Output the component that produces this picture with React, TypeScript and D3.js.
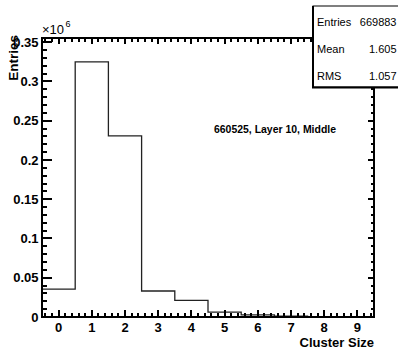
import React from "react";
import * as d3 from "d3";

// bin centres (cluster size) and counts in units of 1e6
const bins = [0, 1, 2, 3, 4, 5, 6, 7, 8, 9];
const counts = [0.0356, 0.3248, 0.2307, 0.0331, 0.0212, 0.0062, 0.0027, 0.0012, 0.0006, 0.0003];
const yTicks = [0, 0.05, 0.1, 0.15, 0.2, 0.25, 0.3, 0.35];
const statLabels = ["Entries", "Mean", "RMS"];
const statValues = ["669883", "1.605", "1.057"];

const W = 398;
const H = 350;
const font = "Liberation Sans, Arial, Helvetica, sans-serif";

const App = () => {
  const left = 42, right = 374, top = 38, bottom = 317;

  const x = d3.scaleLinear().domain([-0.5, 9.5]).range([left, right]);
  const y = d3.scaleLinear().domain([0, 0.3553]).range([bottom, top]);

  // step outline of the histogram
  const pts: [number, number][] = [];
  bins.forEach((b, i) => {
    pts.push([b - 0.5, counts[i]]);
    pts.push([b + 0.5, counts[i]]);
  });
  const line = d3.line<[number, number]>().x(d => x(d[0])).y(d => y(d[1]));

  const xMinor = d3.range(-0.4, 9.5, 0.2).filter(v => Math.abs(v - Math.round(v)) > 0.01);
  const yMinor = d3.range(0.01, 0.355, 0.01).filter(v => Math.abs(v / 0.05 - Math.round(v / 0.05)) > 0.01);
  const r = (v: number) => Math.round(v);

  return (
    <svg width={W} height={H} style={{ position: "absolute", left: 0, top: 0, background: "#fff" }}>
      <rect x={0} y={0} width={W} height={H} fill="#fff" />
      <path d={line(pts) || ""} fill="none" stroke="#222" strokeWidth={1.3} />

      {/* ticks */}
      <g stroke="#000" strokeWidth={2} shapeRendering="crispEdges">
        {bins.map(b => (
          <g key={"xm" + b}>
            <line x1={r(x(b))} x2={r(x(b))} y1={bottom} y2={bottom - 7} />
            <line x1={r(x(b))} x2={r(x(b))} y1={top} y2={top + 6} />
          </g>
        ))}
        {xMinor.map((v, i) => (
          <g key={"xn" + i}>
            <line x1={r(x(v))} x2={r(x(v))} y1={bottom} y2={bottom - 4} />
            <line x1={r(x(v))} x2={r(x(v))} y1={top} y2={top + 4} />
          </g>
        ))}
        {yTicks.map(t => (
          <g key={"ym" + t}>
            <line x1={left} x2={left + 10} y1={r(y(t))} y2={r(y(t))} />
            <line x1={right} x2={right - 6} y1={r(y(t))} y2={r(y(t))} />
          </g>
        ))}
        {yMinor.map((v, i) => (
          <g key={"yn" + i}>
            <line x1={left} x2={left + 5} y1={r(y(v))} y2={r(y(v))} />
            <line x1={right} x2={right - 3.5} y1={r(y(v))} y2={r(y(v))} />
          </g>
        ))}
        {/* frame */}
        <rect x={left} y={top} width={right - left} height={bottom - top} fill="none" />
      </g>

      {/* tick labels */}
      <g fontFamily={font} fontWeight="bold" fontSize={13} fill="#000">
        {yTicks.map(t => (
          <text key={"yl" + t} x={left - 3.5} y={y(t) + 4.7} textAnchor="end">
            {t === 0 ? "0" : String(+t.toFixed(2))}
          </text>
        ))}
        {bins.map(b => (
          <text key={"xl" + b} x={x(b)} y={332} textAnchor="middle">{b}</text>
        ))}
        <text x={right} y={346.5} textAnchor="end">Cluster Size</text>
        <text transform={`translate(18.3,35) rotate(-90)`} textAnchor="end" fontSize={13.5}>Entries</text>
      </g>

      {/* exponent */}
      <g fontFamily={font} fill="#000">
        <text x={42} y={33.5} fontSize={13}>×10</text>
        <text x={65.5} y={26.5} fontSize={9}>6</text>
      </g>

      {/* title */}
      <text x={214} y={133} fontFamily={font} fontWeight="bold" fontSize={10.5} fill="#000" textLength={122} lengthAdjust="spacingAndGlyphs">
        660525, Layer 10, Middle
      </text>

      {/* stats box */}
      <g>
        <rect x={313} y={6} width={100} height={81} fill="#fff" stroke="#000" strokeWidth={1} />
        <line x1={313} x2={313} y1={6} y2={88} stroke="#000" strokeWidth={2} />
        <line x1={312} x2={W} y1={87.5} y2={87.5} stroke="#000" strokeWidth={2} />
        {statLabels.map((s, i) => (
          <g key={s} fontFamily={font} fontSize={11} fill="#000">
            <text x={317} y={26 + i * 27}>{s}</text>
            <text x={396.5} y={26 + i * 27} textAnchor="end">{statValues[i]}</text>
          </g>
        ))}
      </g>
    </svg>
  );
};

export default App;
